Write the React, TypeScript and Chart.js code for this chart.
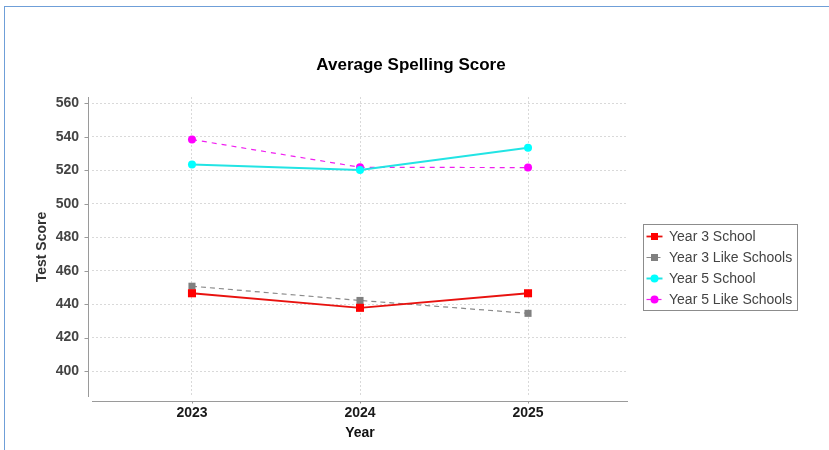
import React, { useEffect, useRef } from 'react';
import { Chart, registerables, layouts } from 'chart.js';

Chart.register(...registerables);

// ---- data ----
const years = [2023, 2024, 2025];
const yearLabels = ['2023', '2024', '2025'];
const year3School = [446.5, 437.8, 446.5];
const year3Like = [450.7, 442.2, 434.5];
const year5School = [523.5, 520.2, 533.5];
const year5Like = [538.4, 521.8, 521.6];
const yTicks = [400, 420, 440, 460, 480, 500, 520, 540, 560];
const seriesNames = ['Year 3 School', 'Year 3 Like Schools', 'Year 5 School', 'Year 5 Like Schools'];
const chartTitle = 'Average Spelling Score';
const xTitle = 'Year';
const yTitle = 'Test Score';

const FONT = '"Liberation Sans", Arial, Helvetica, sans-serif';

const toPoints = (vals: number[]) => vals.map((v, i) => ({ x: years[i], y: v }));

function drawLegend(chart: any, box: any) {
  const ctx = chart.ctx as CanvasRenderingContext2D;
  const left = box.left + 15.5;
  const top = Math.round(chart.height / 2) - 0.5;
  const w = 154;
  const rowH = 21;
  const h = 86;
  ctx.save();
  ctx.strokeStyle = '#8c8c8c';
  ctx.lineWidth = 1;
  ctx.strokeRect(left, top, w, h);
  ctx.font = '14px ' + FONT;
  ctx.textBaseline = 'middle';
  ctx.textAlign = 'left';
  chart.data.datasets.forEach((ds: any, i: number) => {
    const cy = Math.round(top + 11.5 + i * rowH);
    const mx = left + 11;
    ctx.save();
    ctx.strokeStyle = ds.borderColor;
    ctx.lineWidth = ds.borderWidth;
    ctx.setLineDash(ds.borderDash || []);
    ctx.beginPath();
    ctx.moveTo(left + 3, cy + 0.5);
    ctx.lineTo(left + 19, cy + 0.5);
    ctx.stroke();
    ctx.restore();
    ctx.fillStyle = ds.pointBackgroundColor;
    if (ds.pointStyle === 'rect') {
      ctx.fillRect(mx - 3.5, cy - 3, 7, 7);
    } else {
      ctx.beginPath();
      ctx.arc(mx, cy + 0.5, 4, 0, Math.PI * 2);
      ctx.fill();
    }
    ctx.fillStyle = '#444';
    ctx.fillText(ds.label, left + 25.5, cy + 1);
  });
  ctx.restore();
}

const sideLegendPlugin = {
  id: 'sideLegend',
  beforeInit(chart: any) {
    const box: any = {
      position: 'right',
      weight: 0,
      fullSize: false,
      options: { stack: undefined, stackWeight: 1 },
      left: 0,
      top: 0,
      right: 0,
      bottom: 0,
      width: 0,
      height: 0,
      isHorizontal() {
        return false;
      },
      update(maxW: number, maxH: number) {
        this.width = 194;
        this.height = maxH;
      },
      draw() {
        drawLegend(chart, box);
      },
    };
    layouts.addBox(chart, box);
  },
};

const axesPlugin = {
  id: 'jfAxes',
  afterDraw(chart: any) {
    const { ctx, chartArea: a, scales } = chart;
    ctx.save();
    ctx.strokeStyle = '#9a9a9a';
    ctx.lineWidth = 1;
    ctx.beginPath();
    const ax = Math.round(a.left) - 3.5;
    ctx.moveTo(ax, a.top);
    ctx.lineTo(ax, a.bottom);
    yTicks.forEach((v) => {
      const py = Math.round(scales.y.getPixelForValue(v)) + 0.5;
      ctx.moveTo(ax - 4, py);
      ctx.lineTo(ax, py);
    });
    const ay = Math.round(a.bottom) + 4.5;
    ctx.moveTo(a.left, ay);
    ctx.lineTo(a.right, ay);
    years.forEach((v) => {
      const px = Math.round(scales.x.getPixelForValue(v)) + 0.5;
      ctx.moveTo(px, ay);
      ctx.lineTo(px, ay + 2);
    });
    ctx.stroke();
    ctx.restore();
  },
};

export default function App() {
  const ref = useRef<HTMLCanvasElement | null>(null);

  useEffect(() => {
    if (!ref.current) return;
    Chart.defaults.font.family = FONT;
    const chart = new Chart(ref.current, {
      type: 'line',
      data: {
        datasets: [
          {
            label: seriesNames[0],
            data: toPoints(year3School),
            borderColor: '#e8120f',
            borderWidth: 1.8,
            pointStyle: 'rect',
            pointRadius: 5.7,
            pointBackgroundColor: '#ff0000',
            pointBorderWidth: 0,
            tension: 0,
          },
          {
            label: seriesNames[1],
            data: toPoints(year3Like),
            borderColor: '#8a8a8a',
            borderWidth: 1.2,
            borderDash: [5, 4],
            pointStyle: 'rect',
            pointRadius: 5,
            pointBackgroundColor: '#808080',
            pointBorderWidth: 0,
            tension: 0,
          },
          {
            label: seriesNames[2],
            data: toPoints(year5School),
            borderColor: '#22e4e4',
            borderWidth: 2,
            pointStyle: 'circle',
            pointRadius: 4,
            pointBackgroundColor: '#00ffff',
            pointBorderWidth: 0,
            tension: 0,
          },
          {
            label: seriesNames[3],
            data: toPoints(year5Like),
            borderColor: '#f020f0',
            borderWidth: 1.2,
            borderDash: [5, 5],
            pointStyle: 'circle',
            pointRadius: 4,
            pointBackgroundColor: '#ff00ff',
            pointBorderWidth: 0,
            tension: 0,
          },
        ],
      },
      options: {
        responsive: false,
        animation: false,
        layout: { padding: { left: 0, right: 7, top: 0, bottom: 0 } },
        plugins: {
          legend: { display: false },
          tooltip: { enabled: false },
          title: {
            display: true,
            text: chartTitle,
            color: '#000',
            font: { size: 17, weight: 'bold', family: FONT, lineHeight: 1.2 },
            padding: { top: 54.8, bottom: 21.8 },
          },
        },
        scales: {
          x: {
            type: 'linear',
            min: 2022.405,
            max: 2025.595,
            afterBuildTicks: (scale: any) => {
              scale.ticks = years.map((v) => ({ value: v }));
            },
            afterFit: (scale: any) => {
              scale.height = 53;
            },
            ticks: {
              padding: 8,
              color: '#1a1a1a',
              font: { size: 14, weight: 'bold', family: FONT },
              callback: (value: any) => {
                const i = years.indexOf(Number(value));
                return i >= 0 ? yearLabels[i] : '';
              },
            },
            grid: { color: '#d9d9d9', drawTicks: false },
            border: { display: false, dash: [2, 2] },
            title: {
              display: true,
              text: xTitle,
              color: '#111',
              font: { size: 14, weight: 'bold', family: FONT },
              padding: { top: 0, bottom: 8.6 },
            },
          },
          y: {
            type: 'linear',
            min: 384.5,
            max: 563.8,
            afterBuildTicks: (scale: any) => {
              scale.ticks = yTicks.map((v) => ({ value: v }));
            },
            afterFit: (scale: any) => {
              scale.width = 92;
            },
            ticks: {
              padding: 13,
              color: '#444',
              font: { size: 14, weight: 'bold', family: FONT },
              callback: (value: any) => String(value),
            },
            grid: { color: '#d9d9d9', drawTicks: false },
            border: { display: false, dash: [2, 2] },
            title: {
              display: true,
              text: yTitle,
              color: '#333',
              font: { size: 14, weight: 'bold', family: FONT },
              padding: { top: 33.6, bottom: 0 },
            },
          },
        },
      },
      plugins: [sideLegendPlugin, axesPlugin],
    } as any);
    return () => chart.destroy();
  }, []);

  return (
    <div style={{ position: 'absolute', left: 0, top: 0, width: 829, height: 450, overflow: 'hidden', background: '#fff' }}>
      <div
        style={{
          position: 'absolute',
          left: 4,
          top: 6,
          width: 900,
          height: 500,
          borderTop: '1px solid #6f9fd8',
          borderLeft: '1px solid #6f9fd8',
        }}
      />
      <canvas ref={ref} width={829} height={450} style={{ position: 'absolute', left: 0, top: 0 }} />
    </div>
  );
}
